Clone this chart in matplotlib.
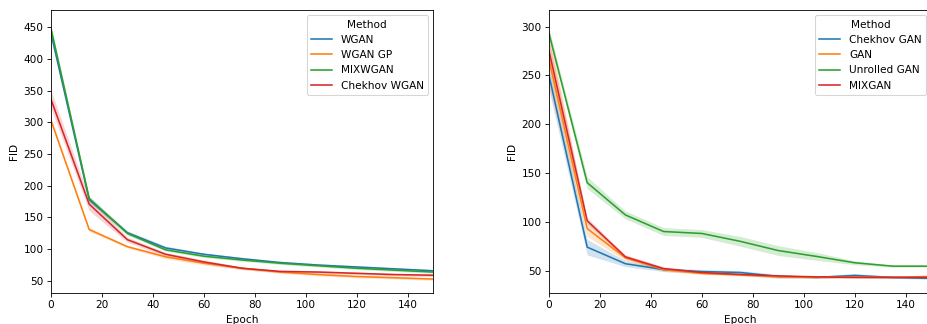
import numpy as np
import matplotlib
matplotlib.use('Agg')
import matplotlib.pyplot as plt

epochs = [0, 15, 30, 45, 60, 75, 90, 105, 120, 135, 150]

# left panel: WGAN variants
wgan = [440, 178, 126, 102, 92, 85, 79, 75, 72, 69, 66]
wgan_gp = [303, 131, 104, 88, 78, 70, 64, 60, 57, 55, 53]
mixwgan = [448, 180, 125, 99, 89, 83, 78, 74, 70, 67, 64]
chekhov_wgan = [336, 171, 115, 92, 80, 70, 65, 64, 62, 60, 59]
wgan_err = [5, 4, 3, 3, 2, 2, 2, 2, 2, 2, 2]
wgan_gp_err = [4, 3, 2, 3, 3, 2, 2, 2, 2, 2, 2]
mixwgan_err = [3, 4, 3, 2, 2, 2, 2, 2, 2, 2, 2]
chekhov_wgan_err = [14, 10, 4, 3, 3, 2, 2, 2, 2, 2, 2]

# right panel: GAN variants
chekhov_gan = [250, 74, 57, 51, 49, 48, 44, 43, 45, 43, 42]
gan = [266, 93, 63, 51, 47, 45.5, 43.5, 43, 43.5, 43, 44]
unrolled_gan = [293, 140, 107, 90, 88, 80, 70.5, 64.5, 58, 54.5, 54.5]
mixgan = [275, 101, 64, 52, 48, 46, 44.5, 43.5, 43, 43, 43]
chekhov_gan_err = [15, 8, 3, 2, 2, 2, 2, 1, 2, 1, 1]
gan_err = [30, 8, 3, 2, 1, 1, 1, 1, 1, 1, 1]
unrolled_gan_err = [5, 6, 4, 4, 4, 5, 5, 4, 2, 1, 1]
mixgan_err = [12, 3, 2, 2, 1, 1, 1, 1, 1, 1, 1]

colors = ['#1f77b4', '#ff7f0e', '#2ca02c', '#d62728']

fig = plt.figure(figsize=(927/76, 324/76), dpi=76)
ax1 = fig.add_axes([51/927, 31/324, 382/927, 283/324])
ax2 = fig.add_axes([549/927, 31/324, 382/927, 283/324])

def draw(ax, series, errs, labels):
    x = np.array(epochs)
    for y, e, lab, c in zip(series, errs, labels, colors):
        y = np.array(y, dtype=float)
        e = np.array(e, dtype=float)
        ax.fill_between(x, y - e, y + e, color=c, alpha=0.2, linewidth=0)
        ax.plot(x, y, color=c, lw=1.5, label=lab)
    ax.set_xlim(0, 150)
    ax.set_xlabel('Epoch')
    ax.set_ylabel('FID')
    ax.legend(title='Method', loc='upper right')

draw(ax1, [wgan, wgan_gp, mixwgan, chekhov_wgan],
     [wgan_err, wgan_gp_err, mixwgan_err, chekhov_wgan_err],
     ['WGAN', 'WGAN GP', 'MIXWGAN', 'Chekhov WGAN'])
ax1.set_ylim(31, 477)

draw(ax2, [chekhov_gan, gan, unrolled_gan, mixgan],
     [chekhov_gan_err, gan_err, unrolled_gan_err, mixgan_err],
     ['Chekhov GAN', 'GAN', 'Unrolled GAN', 'MIXGAN'])
ax2.set_ylim(27, 317)

fig.savefig('out.png', dpi=76)
